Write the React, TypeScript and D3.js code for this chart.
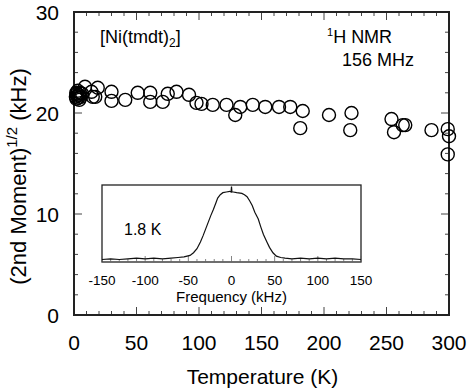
import React, { useRef, useEffect } from "react";
import * as d3 from "d3";

// main data: temperature (K) vs sqrt(second moment) (kHz)
const temps = [
  1.5, 1.8, 2, 2.3, 2.6, 3, 3.3, 3.7, 4.2, 4.8, 5.5, 6.5, 8.8, 14, 15, 17, 19,
  30, 30, 41, 51, 61, 61, 71, 75, 82, 92, 98, 102, 111, 122, 129, 133, 143,
  153, 164, 173, 181, 183, 204, 222, 221, 254, 256, 263, 265, 286, 299, 300,
  299,
];
const moments = [
  21.6, 22.0, 21.4, 21.9, 21.7, 22.2, 21.5, 21.8, 21.3, 22.0, 21.6, 21.9, 22.6,
  22.1, 21.6, 21.6, 22.5, 22.1, 21.2, 21.3, 22.0, 22.0, 21.1, 21.1, 21.9, 22.1,
  21.8, 21.0, 20.9, 20.8, 20.8, 19.8, 20.6, 20.8, 20.6, 20.6, 20.6, 18.5, 20.2,
  19.8, 20.0, 18.3, 19.4, 18.1, 18.8, 18.8, 18.3, 18.4, 17.7, 15.9,
];

// inset spectrum at 1.8 K (normalized intensity)
const specFreq = [
  -150, -140, -130, -120, -110, -100, -90, -80, -70, -62, -55, -48, -44, -40,
  -36, -33, -30, -27, -24, -21, -18, -16, -13, -10, -6, -2, -0.5, 0, 0.5, 2, 6,
  12, 15, 18, 21, 24, 27, 31, 34, 37, 41, 44, 48, 52, 57, 62, 70, 80, 90, 100,
  110, 120, 130, 140, 150,
];
const specInt = [
  0.0, 0.01, 0.0, 0.01, 0.02, 0.01, 0.02, 0.01, 0.02, 0.03, 0.04, 0.06, 0.1,
  0.16, 0.26, 0.35, 0.45, 0.55, 0.65, 0.74, 0.84, 0.91, 0.96, 0.99, 1.0, 1.01,
  1.0, 1.08, 1.0, 1.0, 0.99, 0.98, 0.96, 0.93, 0.87, 0.8, 0.7, 0.6, 0.48, 0.37,
  0.26, 0.18, 0.1, 0.05, 0.03, 0.02, 0.01, 0.02, 0.01, 0.02, 0.01, 0.02, 0.01,
  0.01, 0.0,
];

const xTicks = [0, 50, 100, 150, 200, 250, 300];
const yTicks = [0, 10, 20, 30];
const insetTicks = [-150, -100, -50, 0, 50, 100, 150];

const FONT = "Liberation Sans, Arial, sans-serif";

const App = () => {
  const svgRef = useRef<SVGSVGElement>(null);

  useEffect(() => {
    const W = 469;
    const H = 390;
    const margin = { top: 12, right: 20, bottom: 75, left: 74 };
    const width = W - margin.left - margin.right;
    const height = H - margin.top - margin.bottom;

    const svg = d3.select(svgRef.current).attr("width", W).attr("height", H);
    svg.selectAll("*").remove();

    svg.append("rect").attr("width", W).attr("height", H).attr("fill", "white");

    const chart = svg
      .append("g")
      .attr("transform", `translate(${margin.left}, ${margin.top})`);

    const x = d3.scaleLinear().domain([0, 300]).range([0, width]);
    const y = d3.scaleLinear().domain([0, 30]).range([height, 0]);

    // ticks (inward, on all four sides)
    const ticks = chart.append("g").attr("stroke", "#444").attr("stroke-width", 1);
    d3.range(0, 301, 10).forEach((t) => {
      const len = t % 50 === 0 ? 8 : 4;
      ticks.append("line").attr("x1", x(t)).attr("x2", x(t)).attr("y1", height).attr("y2", height - len);
      ticks.append("line").attr("x1", x(t)).attr("x2", x(t)).attr("y1", 0).attr("y2", len);
    });
    d3.range(0, 31, 2).forEach((t) => {
      const len = t % 10 === 0 ? 8 : 4;
      ticks.append("line").attr("x1", 0).attr("x2", len).attr("y1", y(t)).attr("y2", y(t));
      ticks.append("line").attr("x1", width).attr("x2", width - len).attr("y1", y(t)).attr("y2", y(t));
    });

    // frame
    chart
      .append("rect")
      .attr("width", width)
      .attr("height", height)
      .attr("fill", "none")
      .attr("stroke", "#222")
      .attr("stroke-width", 2);

    // tick labels
    chart
      .selectAll(".xlab")
      .data(xTicks)
      .enter()
      .append("text")
      .attr("x", (d) => x(d))
      .attr("y", height + 35)
      .attr("text-anchor", "middle")
      .attr("font-family", FONT)
      .attr("font-size", 21)
      .text((d) => d);

    chart
      .selectAll(".ylab")
      .data(yTicks)
      .enter()
      .append("text")
      .attr("x", -15)
      .attr("y", (d) => y(d) + 7.5)
      .attr("text-anchor", "end")
      .attr("font-family", FONT)
      .attr("font-size", 21)
      .text((d) => d);

    // axis titles
    chart
      .append("text")
      .attr("x", width / 2 + 1)
      .attr("y", height + 69)
      .attr("text-anchor", "middle")
      .attr("font-family", FONT)
      .attr("font-size", 21)
      .text("Temperature (K)");

    const yTitle = chart
      .append("text")
      .attr("transform", `translate(${-48}, ${height / 2 + 13}) rotate(-90)`)
      .attr("text-anchor", "middle")
      .attr("font-family", FONT)
      .attr("font-size", 22);
    yTitle.append("tspan").text("(2nd Moment)");
    yTitle.append("tspan").attr("font-size", 15).attr("dy", -9).text("1/2");
    yTitle.append("tspan").attr("dy", 9).text(" (kHz)");

    // annotations
    chart
      .append("text")
      .attr("x", 26)
      .attr("y", 31)
      .attr("font-family", FONT)
      .attr("font-size", 18)
      .call((t) => {
        t.append("tspan").text("[Ni(tmdt)");
        t.append("tspan").attr("font-size", 12).attr("dy", 4).text("2");
        t.append("tspan").attr("dy", -4).text("]");
      });

    const nmr = chart
      .append("text")
      .attr("x", 253)
      .attr("y", 31)
      .attr("font-family", FONT)
      .attr("font-size", 18);
    nmr.append("tspan").attr("font-size", 11).attr("dy", -7).text("1");
    nmr.append("tspan").attr("dy", 7).text("H NMR");

    chart
      .append("text")
      .attr("x", 268)
      .attr("y", 54)
      .attr("font-family", FONT)
      .attr("font-size", 18)
      .text("156 MHz");

    // data circles
    chart
      .selectAll(".pt")
      .data(temps.map((t, i) => ({ t, v: moments[i] })))
      .enter()
      .append("circle")
      .attr("cx", (d) => x(d.t))
      .attr("cy", (d) => y(d.v))
      .attr("r", 6.5)
      .attr("fill", "none")
      .attr("stroke", "#000")
      .attr("stroke-width", 1.4);

    // inset
    const inset = { left: 102, top: 185, right: 361, bottom: 262 };
    const ix = d3.scaleLinear().domain([-150, 150]).range([inset.left, inset.right]);
    const iy = d3.scaleLinear().domain([0, 1]).range([259.5, 192]);

    const ig = svg.append("g");
    ig.append("rect")
      .attr("x", inset.left)
      .attr("y", inset.top)
      .attr("width", inset.right - inset.left)
      .attr("height", inset.bottom - inset.top)
      .attr("fill", "white")
      .attr("stroke", "#222")
      .attr("stroke-width", 1.3);

    d3.range(-150, 151, 10).forEach((t) => {
      const len = t % 50 === 0 ? 6 : 3;
      ig.append("line")
        .attr("x1", ix(t))
        .attr("x2", ix(t))
        .attr("y1", inset.bottom)
        .attr("y2", inset.bottom - len)
        .attr("stroke", "#666")
        .attr("stroke-width", 0.8);
    });

    const line = d3
      .line<number>()
      .x((d, i) => ix(specFreq[i]))
      .y((d) => iy(d));

    ig.append("path")
      .datum(specInt)
      .attr("d", line)
      .attr("fill", "none")
      .attr("stroke", "#111")
      .attr("stroke-width", 1.2);

    ig.selectAll(".ilab")
      .data(insetTicks)
      .enter()
      .append("text")
      .attr("x", (d) => ix(d))
      .attr("y", 285)
      .attr("text-anchor", "middle")
      .attr("font-family", FONT)
      .attr("font-size", 13.5)
      .text((d) => d);

    ig.append("text")
      .attr("x", ix(0))
      .attr("y", 302)
      .attr("text-anchor", "middle")
      .attr("font-family", FONT)
      .attr("font-size", 15)
      .text("Frequency (kHz)");

    ig.append("text")
      .attr("x", 124)
      .attr("y", 235)
      .attr("font-family", FONT)
      .attr("font-size", 16)
      .text("1.8 K");
  }, []);

  return (
    <svg
      ref={svgRef}
      style={{ position: "absolute", left: 0, top: 0, display: "block" }}
      width={469}
      height={390}
    ></svg>
  );
};

export default App;
